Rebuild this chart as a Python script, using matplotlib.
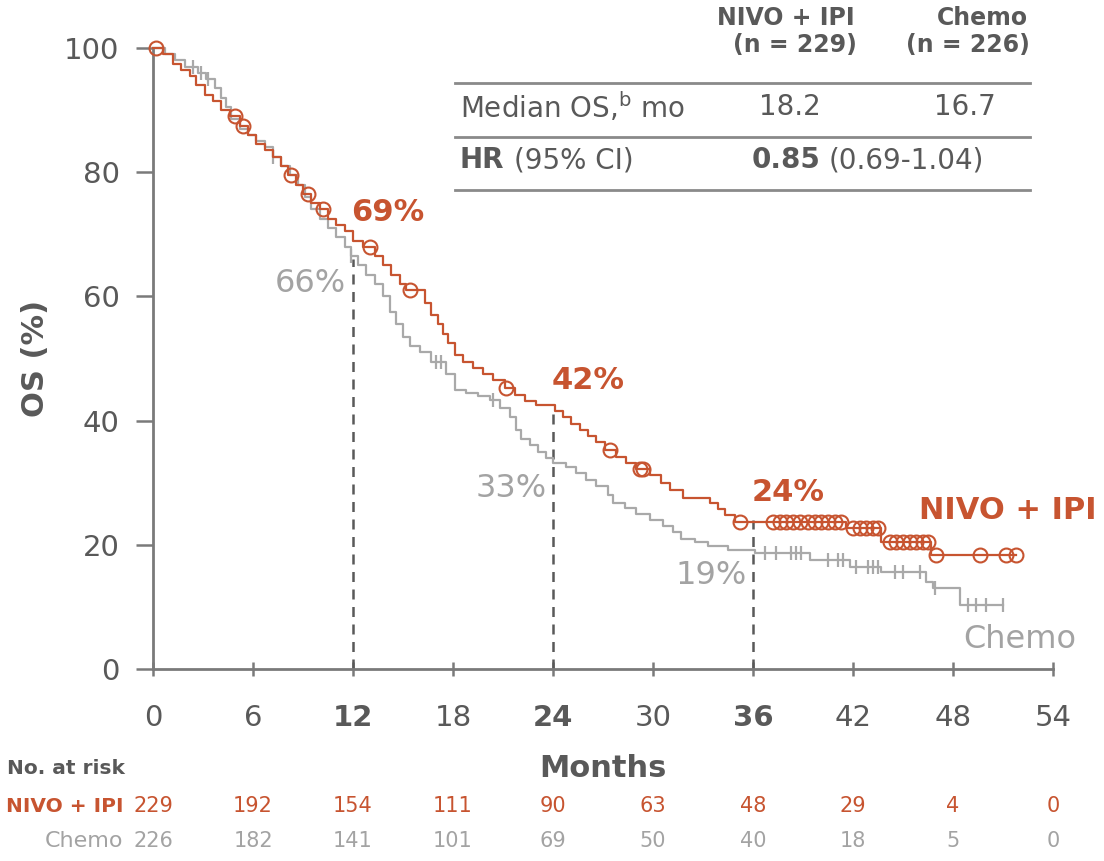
import numpy as np
import matplotlib
matplotlib.use("Agg")
import matplotlib.pyplot as plt
from matplotlib.transforms import blended_transform_factory

# --- data ------------------------------------------------------------------
nivo_t = [0, 0.6, 1.2, 1.7, 2.2, 2.6, 3.1, 3.6, 4.1, 4.6, 5.2, 5.7, 6.2, 6.7, 7.2, 7.7,
          8.1, 8.6, 9.0, 9.5, 10.0, 10.5, 11.0, 11.5, 12.0, 12.6, 13.3, 13.8, 14.3, 14.8,
          15.2, 16.3, 16.7, 17.1, 17.4, 17.7, 18.1, 18.6, 19.2, 19.8, 20.4, 21.1, 21.7,
          22.3, 23.0, 24.1, 24.6, 25.1, 25.6, 26.1, 26.6, 27.1, 27.8, 28.4, 29.0, 29.8,
          30.5, 31.0, 31.8, 33.4, 33.9, 34.3, 34.9, 41.6, 43.7, 46.7]
nivo_s = [100, 99, 97.5, 96.5, 95.5, 94, 92.5, 91.5, 90, 89, 87.5, 86, 84.5, 83.5, 82.5, 81,
          79.5, 78, 76.5, 75, 74, 72.5, 71.5, 70.5, 69, 68, 66.5, 65, 63.5, 62,
          61, 59, 57, 55.5, 54, 52.5, 50.5, 49.5, 48.5, 47.5, 46.5, 45.2, 44.2,
          43.2, 42.5, 41.5, 40.5, 39.5, 38.5, 37.5, 36.5, 35.2, 34.2, 33.2, 32.2, 31.2,
          30, 28.8, 27.5, 26.7, 25.8, 24.8, 23.7, 22.7, 20.5, 18.4]
nivo_cens = [0.2, 4.9, 5.4, 8.3, 9.3, 10.2, 13.0, 15.4, 21.2, 27.4, 29.2, 29.4, 35.2,
             37.2, 37.6, 38.0, 38.4, 38.8, 39.3, 39.7, 40.1, 40.5, 40.9, 41.3,
             42.0, 42.4, 42.8, 43.2, 43.5, 44.2, 44.6, 45.0, 45.4, 45.8, 46.2, 46.5,
             47.0, 49.6, 51.2, 51.8]

chemo_t = [0, 0.7, 1.3, 1.9, 2.7, 3.2, 3.7, 4.1, 4.4, 4.7, 5.2, 5.7, 6.2, 6.7, 7.2, 7.7,
           8.2, 8.7, 9.1, 9.5, 10.0, 10.5, 11.0, 11.5, 11.9, 12.3, 12.8, 13.3, 13.8, 14.2,
           14.6, 15.0, 15.4, 16.0, 16.7, 17.6, 18.1, 18.8, 19.5, 20.2, 20.8, 21.4, 21.8,
           22.1, 22.6, 23.1, 23.6, 24.0, 24.8, 25.4, 26.0, 26.6, 27.3, 27.6, 28.3, 29.0,
           29.8, 30.6, 31.2, 31.7, 32.5, 33.3, 34.5, 36.1, 39.4, 41.8, 43.7, 46.4, 46.8, 48.4]
chemo_s = [100, 99, 98, 97, 96, 95, 93.5, 92, 90.5, 88.5, 87, 86, 85, 84, 82.5, 81,
           79.5, 78, 76, 74, 72.5, 71, 69.5, 68, 66.5, 65, 63.5, 62, 60, 57.5,
           55.5, 53.5, 52, 51, 49.5, 47.5, 45, 44.5, 44, 43.3, 42, 40.6, 38.5,
           37, 36, 35, 34, 33.2, 32.5, 31.5, 30.5, 29.5, 28, 26.8, 26, 25,
           24, 23, 22, 21, 20.5, 19.8, 19.2, 18.7, 17.5, 16.5, 15.7, 14, 13.1, 10.3]
chemo_cens = [2.4, 2.9, 3.3, 7.2, 11.9, 17.0, 17.3, 20.4, 36.7, 37.4, 38.3, 38.6, 38.9,
              40.5, 41.1, 41.4, 42.2, 42.9, 43.2, 43.5, 44.5, 45.0, 46.0, 46.9,
              48.9, 49.4, 50.0, 51.0]

landmarks = [12, 24, 36]
nivo_land = [69, 42, 24]
chemo_land = [66, 33, 19]
dash_top = [66, 42, 24]

risk_months = [0, 6, 12, 18, 24, 30, 36, 42, 48, 54]
nivo_risk = [229, 192, 154, 111, 90, 63, 48, 29, 4, 0]
chemo_risk = [226, 182, 141, 101, 69, 50, 40, 18, 5, 0]

ORANGE = "#c75430"
GRAY = "#a9a9a9"
GRAYTXT = "#a3a3a3"
DARK = "#595959"

plt.rcParams['font.family'] = ['DejaVu Sans']


def km_xy(t, s, end):
    x = list(t) + [end]
    y = list(s) + [s[-1]]
    return x, y


def surv_at(t, s, x):
    idx = np.searchsorted(t, x, side='right') - 1
    return np.array(s)[idx]


fig = plt.figure(figsize=(11.04, 8.61), dpi=100)
ax = fig.add_axes([153 / 1104, 1 - 669 / 861, 900 / 1104, 621 / 861])

# chemo first, nivo on top
cx, cy = km_xy(chemo_t, chemo_s, max(chemo_cens))
ax.step(cx, cy, where='post', color=GRAY, lw=1.6, clip_on=False, zorder=3)
ax.plot(chemo_cens, surv_at(chemo_t, chemo_s, chemo_cens), ls='none', marker='|',
        ms=10, mew=1.6, color=GRAY, clip_on=False, zorder=3)

nx, ny = km_xy(nivo_t, nivo_s, max(nivo_cens))
ax.step(nx, ny, where='post', color=ORANGE, lw=1.6, clip_on=False, zorder=4)
ax.plot(nivo_cens, surv_at(nivo_t, nivo_s, nivo_cens), ls='none', marker='o',
        ms=10, mew=1.5, mfc='none', color=ORANGE, clip_on=False, zorder=4)

# landmark dashed lines and labels
for m, top, nv, cv in zip(landmarks, dash_top, nivo_land, chemo_land):
    ax.plot([m, m], [0, top], ls=(0, (4, 3)), color=DARK, lw=1.8, zorder=2)
    ax.text(m - 0.1, nv + 4.5, f"{nv}%", color=ORANGE, fontsize=22,
            fontweight='bold', ha='left', va='center')
    ax.text(m - 0.4, cv - 4.0, f"{cv}%", color=GRAYTXT, fontsize=23,
            ha='right', va='center')

ax.text(51.3, 25.6, "NIVO + IPI", color=ORANGE, fontsize=22, fontweight='bold',
        ha='center', va='center', clip_on=False)
ax.text(52.0, 4.7, "Chemo", color=GRAYTXT, fontsize=23, ha='center', va='center',
        clip_on=False)

# axes styling
ax.set_xlim(0, 54)
ax.set_ylim(0, 100)
ax.spines['right'].set_color('none')
ax.spines['top'].set_color('none')
for sp in ['left', 'bottom']:
    ax.spines[sp].set_color('#7a7a7a')
    ax.spines[sp].set_linewidth(2)
ax.set_xticks(risk_months)
ax.set_yticks([0, 20, 40, 60, 80, 100])
ax.tick_params(axis='y', direction='out', length=12, width=1.8, color='#7a7a7a',
               labelsize=21, labelcolor=DARK, pad=12)
ax.tick_params(axis='x', direction='inout', length=10, width=1.8, color='#7a7a7a',
               labelsize=21, labelcolor=DARK, pad=20)
for lab in ax.get_xticklabels():
    if lab.get_text() in ('12', '24', '36'):
        lab.set_fontweight('bold')
ax.set_xlabel("Months", fontsize=22, fontweight='bold', color=DARK, labelpad=16)
ax.set_ylabel("OS (%)", fontsize=22, fontweight='bold', color=DARK, labelpad=10)


# summary table (top right), figure pixel coordinates
def ftxt(px, py, s, **kw):
    fig.text(px / 1104, 1 - py / 861, s, color=DARK, va='center', **kw)


ftxt(786, 18, "NIVO + IPI", fontsize=17, fontweight='bold', ha='center')
ftxt(795, 45, "(n = 229)", fontsize=17, fontweight='bold', ha='center')
ftxt(982, 18, "Chemo", fontsize=17, fontweight='bold', ha='center')
ftxt(968, 45, "(n = 226)", fontsize=17, fontweight='bold', ha='center')
for py in (83, 137, 190):
    fig.add_artist(plt.Line2D([455 / 1104, 1030 / 1104], [1 - py / 861] * 2,
                              color='#8a8a8a', lw=2))
ftxt(460, 107, r"Median OS,$^{\mathregular{b}}$ mo", fontsize=20, ha='left')
ftxt(790, 107, "18.2", fontsize=20, ha='center')
ftxt(965, 107, "16.7", fontsize=20, ha='center')
ftxt(460, 160, "HR", fontsize=20, fontweight='bold', ha='left')
ftxt(514, 160, "(95% CI)", fontsize=20, ha='left')
ftxt(752, 160, "0.85", fontsize=20, fontweight='bold', ha='left')
ftxt(829, 160, "(0.69-1.04)", fontsize=20, ha='left')

# number at risk
tr = blended_transform_factory(ax.transData, fig.transFigure)
fig.text(125 / 1104, 1 - 768 / 861, "No. at risk", fontsize=14.5, fontweight='bold',
         color=DARK, ha='right', va='center')
fig.text(123 / 1104, 1 - 806 / 861, "NIVO + IPI", fontsize=14.5, fontweight='bold',
         color=ORANGE, ha='right', va='center')
fig.text(123 / 1104, 1 - 841 / 861, "Chemo", fontsize=16, color=GRAYTXT,
         ha='right', va='center')
for m, a, b in zip(risk_months, nivo_risk, chemo_risk):
    fig.text(m, 1 - 806 / 861, str(a), transform=tr, fontsize=15, color=ORANGE,
             ha='center', va='center')
    fig.text(m, 1 - 841 / 861, str(b), transform=tr, fontsize=15, color=GRAYTXT,
             ha='center', va='center')

fig.savefig("out.png", dpi=100)
